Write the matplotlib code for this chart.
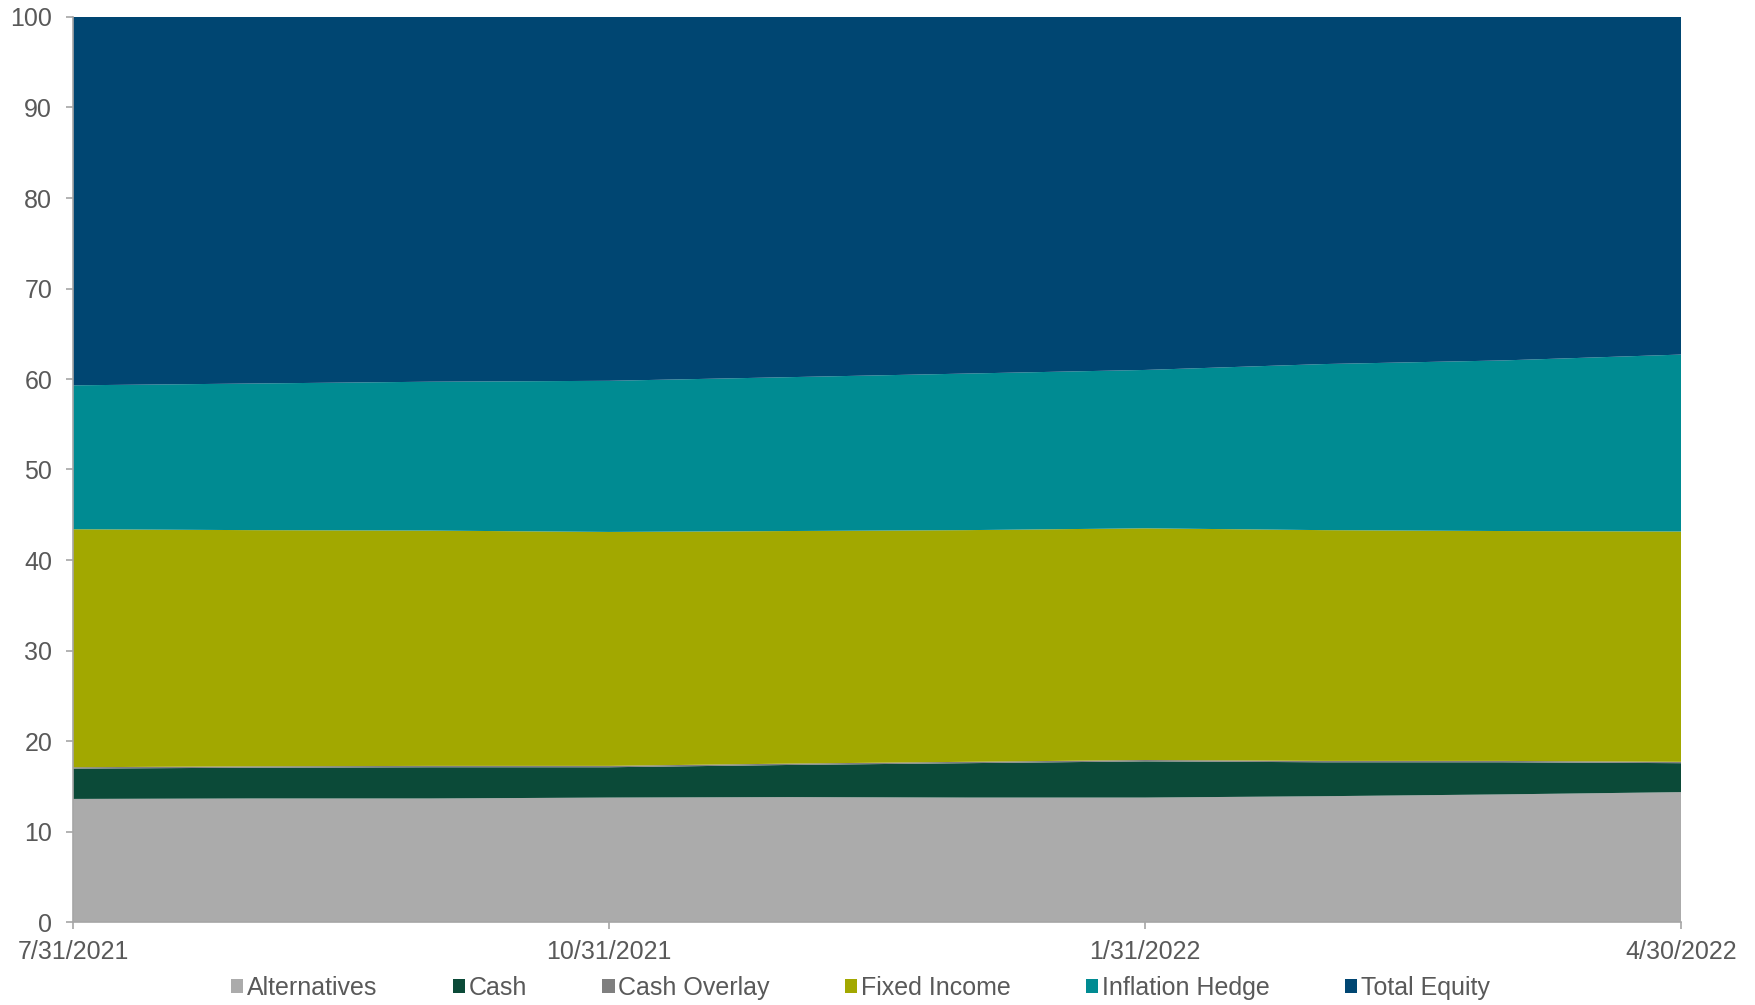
import matplotlib
matplotlib.use("Agg")
import matplotlib.pyplot as plt
import numpy as np

plt.rcParams['font.family'] = ['Liberation Sans', 'DejaVu Sans']

# month-end dates (monthly points)
dates = ['7/31/2021', '8/31/2021', '9/30/2021', '10/31/2021', '11/30/2021',
         '12/31/2021', '1/31/2022', '2/28/2022', '3/31/2022', '4/30/2022']

# allocation (%) per sleeve
alternatives = [13.6, 13.65, 13.65, 13.75, 13.8, 13.75, 13.75, 13.9, 14.1, 14.35]
cash = [3.35, 3.4, 3.45, 3.35, 3.55, 3.8, 4.0, 3.75, 3.55, 3.2]
cash_overlay = [0.15, 0.15, 0.15, 0.15, 0.15, 0.15, 0.15, 0.15, 0.15, 0.15]
fixed_income = [26.3, 26.1, 26.0, 25.85, 25.7, 25.6, 25.6, 25.5, 25.4, 25.45]
inflation_hedge = [15.9, 16.2, 16.45, 16.7, 17.0, 17.3, 17.5, 18.35, 18.85, 19.55]
total_equity = [40.7, 40.5, 40.3, 40.2, 39.8, 39.4, 39.0, 38.35, 37.95, 37.3]

labels = ['Alternatives', 'Cash', 'Cash Overlay', 'Fixed Income',
          'Inflation Hedge', 'Total Equity']
colors = ['#ABABAB', '#0B4A38', '#7F7F7F', '#A2A800', '#008B92', '#004672']

text_col = '#595959'
axis_col = '#A6A6A6'

fig = plt.figure(figsize=(17.56, 10.05), dpi=100)
ax = fig.add_axes([73 / 1756, 83 / 1005, (1681 - 73) / 1756, (922 - 17) / 1005])

x = np.arange(len(dates))
ax.stackplot(x, alternatives, cash, cash_overlay, fixed_income,
             inflation_hedge, total_equity, labels=labels, colors=colors,
             edgecolor='none', linewidth=0)

ax.set_xlim(0, len(dates) - 1)
ax.set_ylim(0, 100)

tick_idx = [0, 3, 6, 9]
ax.set_xticks(tick_idx)
ax.set_xticklabels([dates[i] for i in tick_idx])
ax.set_yticks(range(0, 101, 10))

ax.tick_params(axis='both', colors=axis_col, labelcolor=text_col,
               labelsize=18, length=5, width=1.2, direction='out')
ax.tick_params(axis='y', pad=10)
ax.tick_params(axis='x', pad=8)

for s in ['top', 'right']:
    ax.spines[s].set_visible(False)
for s in ['left', 'bottom']:
    ax.spines[s].set_color(axis_col)
    ax.spines[s].set_linewidth(1.2)

# legend row under the axis
fig.legend(loc='center', bbox_to_anchor=(0.49, 1 - 988 / 1005), ncol=6,
           frameon=False, fontsize=18, labelcolor=text_col,
           handlelength=0.5, handleheight=0.5, handletextpad=0.15,
           columnspacing=3.0, borderaxespad=0)

fig.savefig('out.png', dpi=100)
